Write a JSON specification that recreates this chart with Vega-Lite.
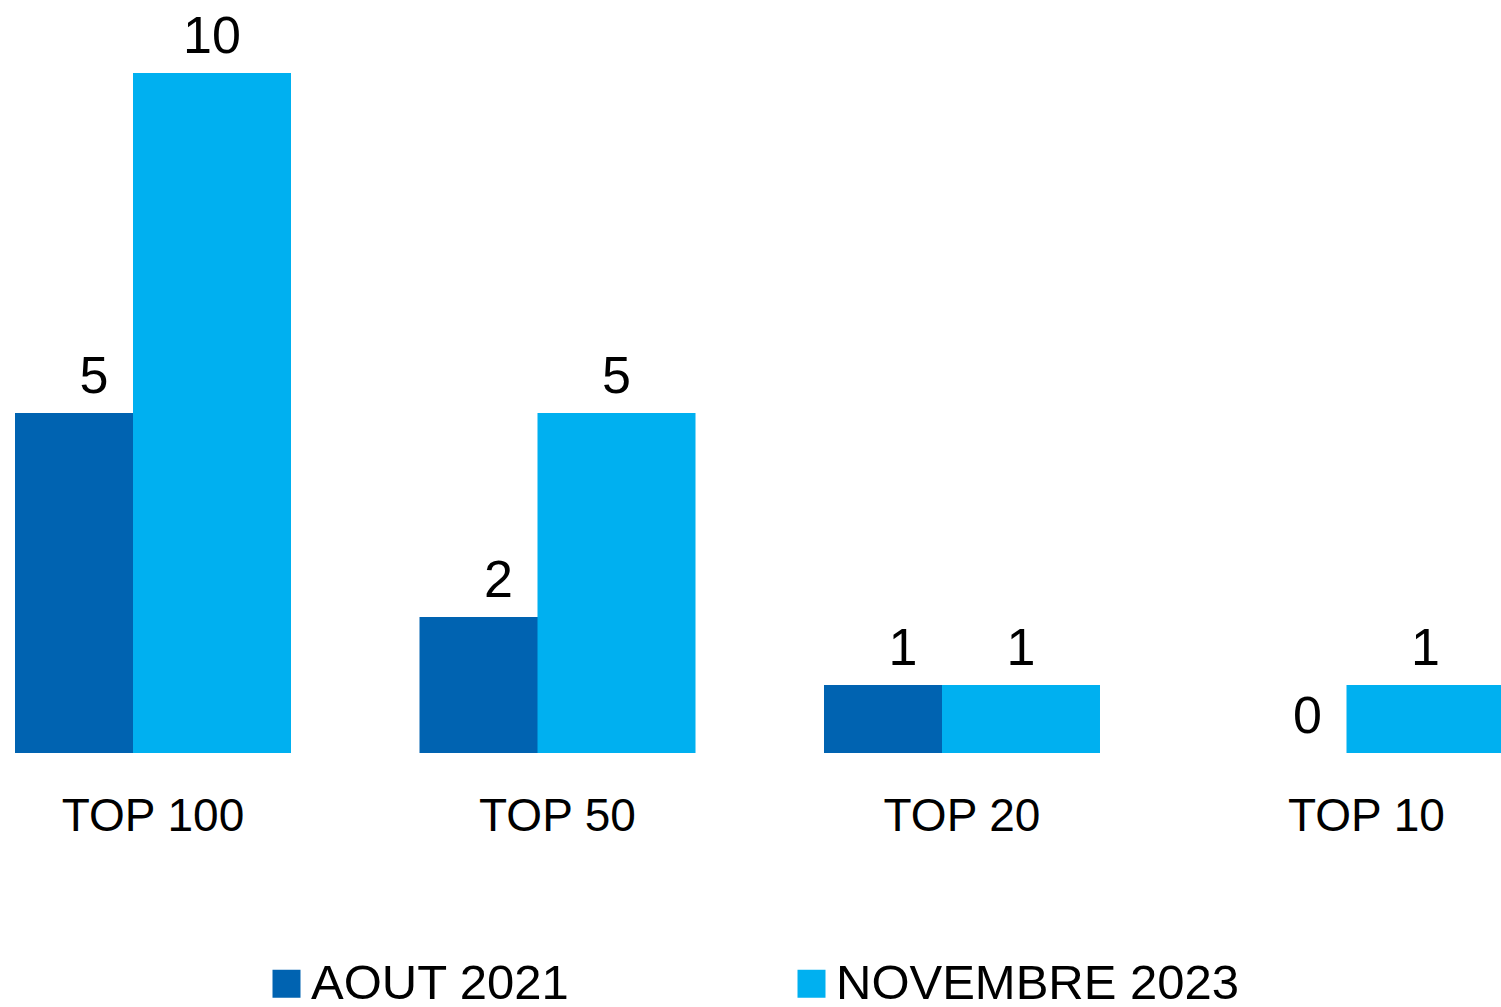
{
  "$schema": "https://vega.github.io/schema/vega-lite/v6.json",
  "width": 1501,
  "height": 680,
  "autosize": {"type": "none"},
  "padding": {"left": 0, "right": 0, "top": 73, "bottom": 254},
  "background": "white",
  "config": {"view": {"stroke": null}, "font": "Liberation Sans"},
  "data": {
    "values": [
      {"rank": "TOP 100", "series": "AOUT 2021", "value": 5},
      {"rank": "TOP 100", "series": "NOVEMBRE 2023", "value": 10},
      {"rank": "TOP 50", "series": "AOUT 2021", "value": 2},
      {"rank": "TOP 50", "series": "NOVEMBRE 2023", "value": 5},
      {"rank": "TOP 20", "series": "AOUT 2021", "value": 1},
      {"rank": "TOP 20", "series": "NOVEMBRE 2023", "value": 1},
      {"rank": "TOP 10", "series": "AOUT 2021", "value": 0},
      {"rank": "TOP 10", "series": "NOVEMBRE 2023", "value": 1}
    ]
  },
  "encoding": {
    "x": {
      "field": "rank",
      "type": "nominal",
      "sort": ["TOP 100", "TOP 50", "TOP 20", "TOP 10"],
      "scale": {"paddingInner": 0.5, "paddingOuter": 0.10538, "align": 0.6085, "round": false},
      "axis": {
        "title": null,
        "domain": false,
        "ticks": false,
        "tickSize": 0,
        "labelAngle": 0,
        "labelFontSize": 46,
        "labelColor": "black",
        "labelBaseline": "alphabetic",
        "labelPadding": 77,
        "labelLimit": 0
      }
    },
    "y": {
      "field": "value",
      "type": "quantitative",
      "scale": {"domain": [0, 10], "nice": false, "zero": true},
      "axis": null
    }
  },
  "layer": [
    {
      "transform": [{"filter": "datum.series === 'AOUT 2021'"}],
      "mark": {"type": "bar", "width": 158, "xOffset": -59},
      "encoding": {
        "color": {
          "field": "series",
          "type": "nominal",
          "scale": {"domain": ["AOUT 2021", "NOVEMBRE 2023"], "range": ["#0063B1", "#00B0F0"]},
          "legend": {
            "title": null,
            "orient": "none",
            "legendX": 262,
            "legendY": 886,
            "direction": "horizontal",
            "symbolType": "square",
            "symbolSize": 784,
            "symbolStrokeWidth": 0,
            "symbolOpacity": 1,
            "labelFontSize": 49,
            "labelColor": "black",
            "labelOffset": 0,
            "labelLimit": 1000,
            "columnPadding": 217,
            "padding": 0
          }
        }
      }
    },
    {
      "transform": [{"filter": "datum.series === 'NOVEMBRE 2023'"}],
      "mark": {"type": "bar", "width": 158, "xOffset": 59},
      "encoding": {
        "color": {"field": "series", "type": "nominal"}
      }
    },
    {
      "transform": [{"filter": "datum.series === 'AOUT 2021'"}],
      "mark": {"type": "text", "fontSize": 52, "baseline": "alphabetic", "align": "center", "dy": -20, "xOffset": -59, "color": "black"},
      "encoding": {"text": {"field": "value", "type": "quantitative"}}
    },
    {
      "transform": [{"filter": "datum.series === 'NOVEMBRE 2023'"}],
      "mark": {"type": "text", "fontSize": 52, "baseline": "alphabetic", "align": "center", "dy": -20, "xOffset": 59, "color": "black"},
      "encoding": {"text": {"field": "value", "type": "quantitative"}}
    }
  ]
}
